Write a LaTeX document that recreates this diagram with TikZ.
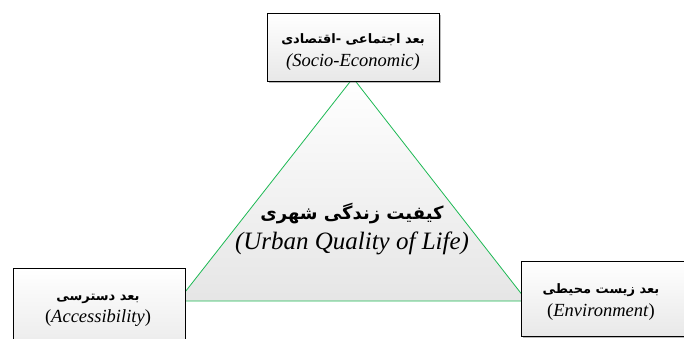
\documentclass[tikz,border=0pt]{standalone}
\usepackage{fontspec}
\setmainfont{Liberation Serif}
\newfontfamily\fafont[Script=Arabic]{DejaVu Sans}
\TeXXeTstate=1
\usetikzlibrary{shadows}
\definecolor{edgegreen}{HTML}{1DB954}
\tikzset{
  dimbox/.style={draw=black, line width=0.7pt,
    top color=white, bottom color=black!9, inner sep=0pt,
    drop shadow={shadow xshift=1.6pt, shadow yshift=-1.6pt, opacity=0.45, fill=black!60}},
  label/.style={align=center, inner sep=0pt},
}
\newcommand{\fasmall}{\fafont\bfseries\fontsize{13}{15}\selectfont}
\newcommand{\ensmall}{\fontsize{18.5}{20}\selectfont}
\begin{document}
\begin{tikzpicture}[x=1pt,y=-1pt]
  \useasboundingbox (0,0) rectangle (684,338);
  % triangle corners
  \coordinate (apex) at (353,78);
  \coordinate (lv) at (178,301);
  \coordinate (rv) at (527,301);
  \shade[top color=white, bottom color=black!10] (apex) -- (lv) -- (rv) -- cycle;
  \draw[edgegreen, line width=0.8pt, line join=round] (apex) -- (lv) -- (rv) -- cycle;
  % centre label
  \node[label] (core) at (352,229)
    {{\fafont\bfseries\fontsize{18}{20}\selectfont\beginR کیفیت زندگی شهری\endR}\\[7pt]
     {\fontsize{25}{26}\selectfont\itshape (Urban Quality of Life)}};
  % three dimensions
  \node[dimbox, minimum width=172pt, minimum height=68pt] (socio) at (353,47) {};
  \node[label] (sociotext) at (353,52)
    {{\fasmall\beginR بعد اجتماعی -اقتصادی\endR}\\[6pt]
     {\ensmall\itshape (Socio-Economic)}};
  \node[dimbox, minimum width=172pt, minimum height=90pt, anchor=north west] (access) at (12.5,268) {};
  \node[label] (accesstext) at (98,310)
    {{\fasmall\beginR بعد دسترسی\endR}\\[5pt]
     {\ensmall(\textit{Accessibility})}};
  \node[dimbox, minimum width=190pt, minimum height=75pt, anchor=north west] (env) at (521,261) {};
  \node[label] (envtext) at (601,302)
    {{\fasmall\beginR بعد زیست محیطی\endR}\\[6pt]
     {\ensmall(\textit{Environment})}};
\end{tikzpicture}
\end{document}
